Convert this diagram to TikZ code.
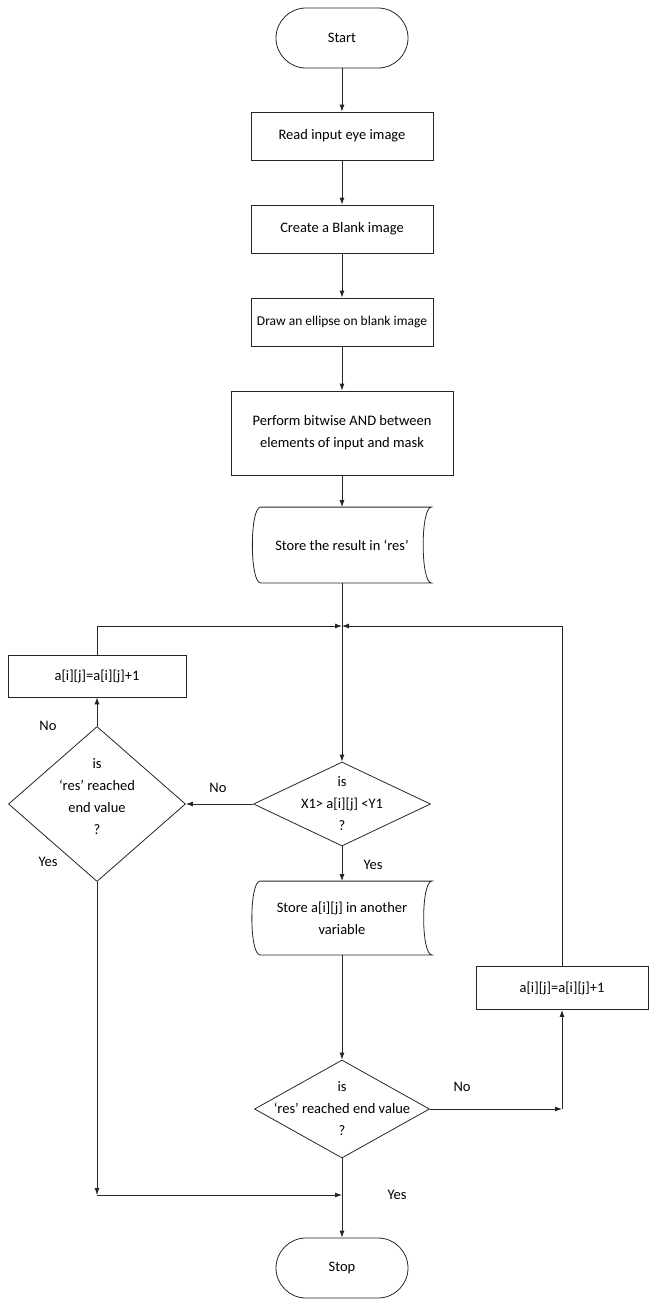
\documentclass[tikz,border=0pt]{standalone}
\usepackage{fontspec}
\setmainfont{Carlito}
\usetikzlibrary{shapes,arrows.meta,positioning}

% outline of a "stored data" box round a node
\newcommand{\storeoutline}[1]{%
  \draw ([xshift=8pt]#1.north west)
    .. controls ([xshift=-3pt]#1.north west) and ([xshift=-3pt]#1.south west) .. ([xshift=8pt]#1.south west)
    -- (#1.south east)
    .. controls ([xshift=-11pt]#1.south east) and ([xshift=-11pt]#1.north east) .. (#1.north east)
    -- cycle;}

\begin{document}
\begin{tikzpicture}[x=1pt, y=-1pt, line width=0.8pt, draw=black!85,
    >={Latex[length=7pt,width=5pt]},
    font=\fontsize{14.5}{22}\selectfont,
    terminal/.style={draw, rectangle, rounded corners=30pt, minimum width=132pt, minimum height=60pt},
    process/.style={draw, rectangle, inner xsep=1pt, minimum width=182pt, minimum height=48pt, align=center},
    storage/.style={rectangle, inner sep=0pt, align=center},
    decision/.style={draw, diamond, inner sep=0pt},
    dtext/.style={align=center, inner sep=0pt},
    lbl/.style={inner sep=1pt}]
      \useasboundingbox (0,0) rectangle (649,1299);

      \node[terminal] (start) at (342,38) {Start};
      \node[process] (read) at (342,136) {Read input eye image};
      \node[process] (blank) at (342,229) {Create a Blank image};
      \node[process, font=\fontsize{13.5}{22}\selectfont] (ellipse) at (342,322) {Draw an ellipse on blank image};
      \node[process, minimum width=222pt, minimum height=84pt] (bitand) at (342,433)
        {Perform bitwise AND between\\elements of input and mask};
      \node[storage, minimum width=178pt, minimum height=75pt] (store) at (342,545)
        {Store the result in `res'};
      \storeoutline{store}
      \coordinate (merge) at (342,626);

      \node[decision, minimum width=177pt, minimum height=84pt] (range) at (342,804) {};
      \node[dtext] (rangetxt) at (342,804) {is\\X1> a[i][j] <Y1\\?};
      \node[storage, minimum width=179pt, minimum height=73pt] (keep) at (342,918)
        {Store a[i][j] in another\\variable};
      \storeoutline{keep}
      \node[decision, minimum width=175pt, minimum height=98pt] (endr) at (342,1109) {};
      \node[dtext] (endrtxt) at (342,1109) {is\\`res' reached end value\\?};
      \node[process, minimum width=172pt, minimum height=43pt] (incr) at (562,988) {a[i][j]=a[i][j]+1};
      \coordinate (rcorn) at (562,1109);

      \node[decision, minimum width=177pt, minimum height=155pt] (endl) at (97,804) {};
      \node[dtext] (endltxt) at (97,797) {is\\`res' reached\\end value\\?};
      \node[process, minimum width=178pt, minimum height=42pt] (incl) at (97,676) {a[i][j]=a[i][j]+1};
      \coordinate (lcorn) at (97,1195);
      \coordinate (join) at (342,1195);

      \node[terminal] (stop) at (342,1268) {Stop};

      \node[lbl] (nol) at (48,726) {No};
      \node[lbl] (nomid) at (218,788) {No};
      \node[lbl] (yesmid) at (373,865) {Yes};
      \node[lbl] (yesl) at (48,862) {Yes};
      \node[lbl] (nor) at (462,1087) {No};
      \node[lbl] (yesb) at (397,1195) {Yes};

      \draw[->] (start) to (read);
      \draw[->] (read) to (blank);
      \draw[->] (blank) to (ellipse);
      \draw[->] (ellipse) to (bitand);
      \draw[->] (bitand) to (store);
      \draw[->] (store) to (range);
      \draw[->] (range) to (endl);
      \draw[->] (endl) to (incl);
      \draw[->] (incl.north) |- (merge);
      \draw[->] (range) to (keep);
      \draw[->] (keep) to (endr);
      \draw[->] (endr) to (rcorn);
      \draw[->] (rcorn) to (incr);
      \draw[->] (incr.north) |- (merge);
      \draw[->] (endl) to (lcorn);
      \draw[->] (lcorn) to (join);
      \draw[->] (endr) to (stop);
    \end{tikzpicture}
\end{document}
